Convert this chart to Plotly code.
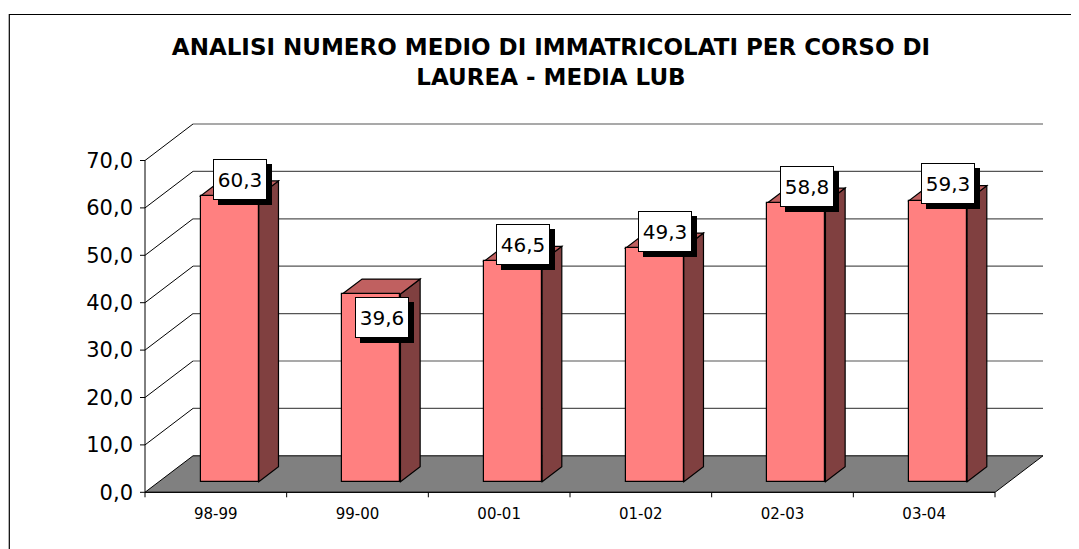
import plotly.graph_objects as go

# ---------------- data ----------------
categories = ["98-99", "99-00", "00-01", "01-02", "02-03", "03-04"]
values = [60.3, 39.6, 46.5, 49.3, 58.8, 59.3]
y_ticks = [0, 10, 20, 30, 40, 50, 60, 70]
title_text = "ANALISI NUMERO MEDIO DI IMMATRICOLATI PER CORSO DI<br>LAUREA - MEDIA LUB"

# ---------------- layout geometry ----------------
OFF = 8                        # browser body margin
W, H = 1079 - OFF, 549 - OFF   # figure size so it fits the window
OX, OY = 145.0 - OFF, 492.3 - OFF   # figure-pixel position of front origin
PXU_X = (995.0 - 145.0) / 6    # pixels per category
PXU_Y = 4.74                   # pixels per value unit
DEPTH_PX_X, DEPTH_PX_Y = 48.0, 36.5
ML, MR, MT, MB = 131, 30, 110, 49
plot_w = W - ML - MR
plot_h = H - MT - MB
x0 = -(OX - ML) / PXU_X
x1 = x0 + plot_w / PXU_X
y0 = -((H - MB) - OY) / PXU_Y
y1 = y0 + plot_h / PXU_Y
DX = DEPTH_PX_X / PXU_X
DY = DEPTH_PX_Y / PXU_Y
N = len(categories)
T1, T2 = 0.29, 0.70   # depth of bar front / back faces
HW = 0.205            # half bar width (category units)

FRONT = "#FF8080"
SIDE = "#804040"
TOP = "#C06060"
FLOOR = "#808080"


def px_to_paper_x(px):
    return (px - ML) / plot_w


def px_to_paper_y(py):
    return ((H - MB) - py) / plot_h


def path(pts):
    return "M " + " L ".join(f"{x},{y}" for x, y in pts) + " Z"


shapes = []
# outer frame
shapes.append(dict(type="rect", xref="paper", yref="paper",
                   x0=px_to_paper_x(9.3 - OFF), x1=px_to_paper_x(W + 10),
                   y0=px_to_paper_y(H + 10), y1=px_to_paper_y(14.5 - OFF),
                   line=dict(color="black", width=1.2), fillcolor="rgba(0,0,0,0)",
                   layer="below"))
# floor
shapes.append(dict(type="path", xref="x", yref="y", layer="below",
                   path=path([(0, 0), (N, 0), (N + DX, DY), (DX, DY)]),
                   fillcolor=FLOOR, line=dict(color="black", width=1)))
# back wall gridlines + left wall diagonals
for v in y_ticks[1:]:
    shapes.append(dict(type="line", xref="x", yref="y", layer="below",
                       x0=DX, y0=v + DY, x1=N + DX, y1=v + DY,
                       line=dict(color="#555555", width=1.2)))
    shapes.append(dict(type="line", xref="x", yref="y", layer="below",
                       x0=0, y0=v, x1=DX, y1=v + DY,
                       line=dict(color="black", width=1)))
# front axes
shapes.append(dict(type="line", xref="x", yref="y", layer="below",
                   x0=0, y0=0, x1=0, y1=y_ticks[-1], line=dict(color="black", width=1)))
shapes.append(dict(type="line", xref="x", yref="y", layer="below",
                   x0=0, y0=0, x1=N, y1=0, line=dict(color="black", width=1)))
# y ticks
for v in y_ticks:
    shapes.append(dict(type="line", xref="x", yref="y", xsizemode="pixel", xanchor=0,
                       x0=-5, x1=0, y0=v, y1=v, layer="below",
                       line=dict(color="black", width=1)))
# x ticks at category boundaries
for b in range(N + 1):
    shapes.append(dict(type="line", xref="x", yref="y", ysizemode="pixel", yanchor=0,
                       x0=b, x1=b, y0=0, y1=-5, layer="below",
                       line=dict(color="black", width=1)))
# bar side and top faces
for i, v in enumerate(values):
    c = i + 0.5
    xr1 = c + HW + T1 * DX
    xr2 = c + HW + T2 * DX
    xl1 = c - HW + T1 * DX
    xl2 = c - HW + T2 * DX
    shapes.append(dict(type="path", xref="x", yref="y", layer="below",
                       path=path([(xr1, T1 * DY), (xr2, T2 * DY), (xr2, v + T2 * DY), (xr1, v + T1 * DY)]),
                       fillcolor=SIDE, line=dict(color="black", width=1.2)))
    shapes.append(dict(type="path", xref="x", yref="y", layer="below",
                       path=path([(xl1, v + T1 * DY), (xr1, v + T1 * DY), (xr2, v + T2 * DY), (xl2, v + T2 * DY)]),
                       fillcolor=TOP, line=dict(color="black", width=1.2)))

fig = go.Figure()
fig.add_trace(go.Bar(
    x=[i + 0.5 + T1 * DX for i in range(N)],
    y=values,
    base=[T1 * DY] * N,
    width=[2 * HW] * N,
    marker=dict(color=FRONT, line=dict(color="black", width=1.2)),
    hoverinfo="skip",
    showlegend=False,
))

# data labels with drop shadow
label_shift = {1: -31}
annotations = []
for i, v in enumerate(values):
    txt = f"{v:.1f}".replace(".", ",")
    ax = i + 0.5 + 0.5 * DX
    ay = v + 0.5 * DY
    ys = label_shift.get(i, 9)
    common = dict(x=ax, y=ay, xref="x", yref="y", showarrow=False,
                  width=46, height=33, borderpad=3, borderwidth=1,
                  xanchor="center", yanchor="middle")
    # shadow box (no text)
    annotations.append(dict(**common, text="&nbsp;", xshift=5, yshift=ys - 5,
                            bgcolor="black", bordercolor="black",
                            font=dict(family="DejaVu Sans", size=20, color="black")))
    annotations.append(dict(**common, text=txt, xshift=0, yshift=ys, bgcolor="white",
                            bordercolor="black",
                            font=dict(family="DejaVu Sans", size=20, color="black")))

fig.update_layout(
    width=W, height=H,
    margin=dict(l=ML, r=MR, t=MT, b=MB, autoexpand=False),
    paper_bgcolor="white", plot_bgcolor="white",
    separators=",.",
    shapes=shapes,
    annotations=annotations,
    title=dict(text=title_text, x=(551 - OFF) / W, xanchor="center", xref="container",
               y=1 - 47 / H, yanchor="top", yref="container",
               font=dict(family="DejaVu Sans", size=23, weight="bold", color="black")),
    xaxis=dict(range=[x0, x1], showgrid=False, zeroline=False, showline=False,
               tickmode="array", tickvals=[i + 0.5 for i in range(N)], ticktext=categories,
               ticks="", ticklabelstandoff=3,
               tickfont=dict(family="DejaVu Sans", size=15, color="black")),
    yaxis=dict(range=[y0, y1], showgrid=False, zeroline=False, showline=False,
               tickmode="array", tickvals=y_ticks, tickformat=".1f",
               ticks="", ticklabelstandoff=5,
               tickfont=dict(family="DejaVu Sans", size=21, color="black")),
    bargap=0,
)

fig.write_html("out.html")
